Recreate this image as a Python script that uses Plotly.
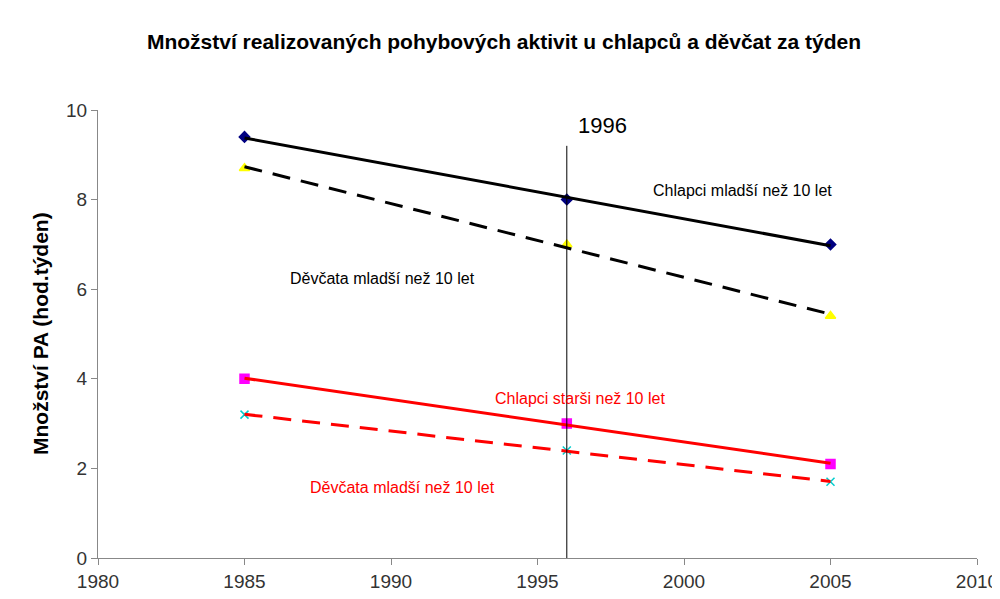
import numpy as np
import plotly.graph_objects as go

years = [1985, 1996, 2005]
boys_young = [9.4, 8.0, 7.0]
girls_young = [8.7, 7.0, 5.4]
boys_old = [4.0, 3.0, 2.1]
girls_old = [3.2, 2.4, 1.7]

x_ticks = [1980, 1985, 1990, 1995, 2000, 2005, 2010]
y_ticks = [0, 2, 4, 6, 8, 10]
marker_year = 1996
marker_top = 9.2

title = "Množství realizovaných pohybových aktivit u chlapců a děvčat za týden"
y_title = "Množství PA (hod.týden)"

font = "Liberation Sans, Arial, sans-serif"

fig = go.Figure()

def trend(vals):
    k, q = np.polyfit(years, vals, 1)
    xs = [years[0], years[-1]]
    return xs, [k * x + q for x in xs]

series = [
    (boys_young, "black", "solid", "diamond", "#000080", 8),
    (girls_young, "black", "18px,11px", "triangle-up", "#FFFF00", 9),
    (boys_old, "#FF0000", "solid", "square", "#FF00FF", 9),
    (girls_old, "#FF0000", "18px,11px", "x-thin-open", "#00CCCC", 8),
]

for vals, lc, dash, sym, mc, ms in series:
    fig.add_trace(go.Scatter(x=years, y=vals, mode="markers",
                             marker=dict(symbol=sym, color=mc, size=ms,
                                         line=dict(color=mc, width=1.5)),
                             showlegend=False, hoverinfo="skip"))
for vals, lc, dash, sym, mc, ms in series:
    tx, ty = trend(vals)
    fig.add_trace(go.Scatter(x=tx, y=ty, mode="lines",
                             line=dict(color=lc, width=3, dash=dash),
                             showlegend=False, hoverinfo="skip"))

fig.add_trace(go.Scatter(x=[marker_year, marker_year], y=[0, marker_top], mode="lines",
                         line=dict(color="black", width=1),
                         showlegend=False, hoverinfo="skip"))

annots = [
    dict(x=1996.3, y=9.65, text="1996", size=22, color="black", xanchor="left"),
    dict(x=2002.0, y=8.21, text="Chlapci mladší než 10 let", size=16, color="black", xanchor="center"),
    dict(x=1989.7, y=6.25, text="Děvčata mladší než 10 let", size=16, color="black", xanchor="center"),
    dict(x=1996.45, y=3.55, text="Chlapci starši než 10 let", size=16, color="#FF0000", xanchor="center"),
    dict(x=1990.4, y=1.58, text="Děvčata mladší než 10 let", size=16, color="#FF0000", xanchor="center"),
]
for a in annots:
    fig.add_annotation(x=a["x"], y=a["y"], text=a["text"], showarrow=False,
                       xanchor=a["xanchor"], yanchor="middle",
                       font=dict(family=font, size=a["size"], color=a["color"]))

fig.add_annotation(x=0, y=0.5, xref="paper", yref="paper", xshift=-58,
                   text="<b>" + y_title + "</b>", textangle=-90, showarrow=False,
                   xanchor="center", yanchor="middle",
                   font=dict(family=font, size=21, color="black"))

fig.update_layout(
    width=1000, height=599,
    paper_bgcolor="white", plot_bgcolor="white",
    margin=dict(l=90, r=31, t=102, b=49),
    title=dict(text="<b>" + title + "</b>", x=0.496, xanchor="center", y=0.943, yanchor="middle",
               font=dict(family=font, size=21, color="black")),
    xaxis=dict(range=[1980, 2010], tickvals=x_ticks, ticks="outside", ticklen=6,
               tickcolor="#888888", showline=True, linecolor="#888888", linewidth=1,
               showgrid=False, zeroline=False, automargin=False,
               tickfont=dict(family=font, size=19, color="#333333")),
    yaxis=dict(range=[0, 10], tickvals=y_ticks, ticks="outside", ticklen=6,
               tickcolor="#888888", showline=True, linecolor="#888888", linewidth=1,
               showgrid=False, zeroline=False, automargin=False,
               tickfont=dict(family=font, size=19, color="#333333")),
)

fig.write_html("out.html")
